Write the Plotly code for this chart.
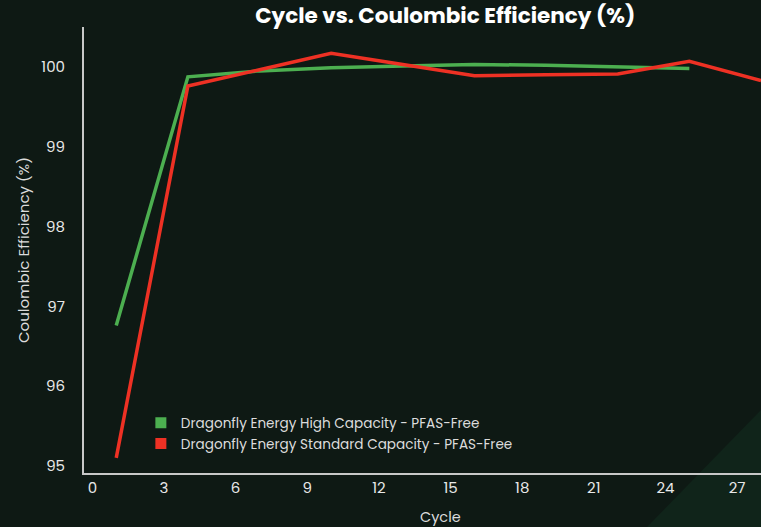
import plotly.graph_objects as go

# cycles and coulombic efficiency (%)
cycles_high = [1, 4, 7, 10, 13, 16, 19, 22, 25]
ce_high = [96.76, 99.875, 99.95, 99.99, 100.01, 100.03, 100.02, 100.0, 99.98]

cycles_std = [1, 4, 7, 10, 13, 16, 19, 22, 25, 28]
ce_std = [95.1, 99.76, 99.965, 100.17, 100.03, 99.89, 99.90, 99.91, 100.07, 99.83]

name_high = "Dragonfly Energy High Capacity - PFAS-Free"
name_std = "Dragonfly Energy Standard Capacity - PFAS-Free"

x_ticks = list(range(0, 28, 3))
y_ticks = [95, 96, 97, 98, 99, 100]

FONT = "Poppins, Inter, 'Open Sans', sans-serif"
bg = "#0e1914"
green = "#4caf50"
red = "#ee3124"

fig = go.Figure()
fig.add_trace(go.Scatter(x=cycles_high, y=ce_high, mode="lines", name=name_high,
                         line=dict(color=green, width=3.5), showlegend=False))
fig.add_trace(go.Scatter(x=cycles_std, y=ce_std, mode="lines", name=name_std,
                         line=dict(color=red, width=3.5), showlegend=False))
# square legend entries
for nm, col in [(name_high, green), (name_std, red)]:
    fig.add_trace(go.Scatter(x=[None], y=[None], mode="markers", name=nm,
                             marker=dict(symbol="square", size=11, color=col)))

# faint lighter corner in the bottom right
fig.add_shape(type="path", xref="paper", yref="paper", layer="below",
              path="M 0.781 -0.2 L 1.0 -0.2 L 1.0 0.141 Z",
              fillcolor="#10241a", line=dict(width=0))

fig.add_annotation(text="Cycle", xref="paper", yref="paper", x=0.526, y=-0.098,
                   xanchor="center", yanchor="middle", showarrow=False,
                   font=dict(size=14.5, color="#dcdcdc"))

fig.update_layout(
    width=761, height=527,
    paper_bgcolor=bg, plot_bgcolor="rgba(0,0,0,0)",
    margin=dict(l=84, r=0, t=27, b=54),
    font=dict(family=FONT, color="#e8e8e8", size=15),
    title=dict(text="<b>Cycle vs. Coulombic Efficiency (%)</b>", x=0.585, xanchor="center",
               y=0.97, yanchor="middle", font=dict(size=21.5, color="#ffffff")),
    showlegend=True,
    legend=dict(x=0.084, y=0.147, xanchor="left", yanchor="top", bgcolor="rgba(0,0,0,0)",
                font=dict(size=13.6, color="#dcdcdc"), itemwidth=30, tracegroupgap=2),
    xaxis=dict(range=[-0.35, 28.0], tickvals=x_ticks, showgrid=False, zeroline=False,
               showline=True, linecolor="#c8c8c8", linewidth=2, ticks=""),
    yaxis=dict(range=[94.91, 100.5], tickvals=y_ticks, showgrid=False, zeroline=False,
               showline=True, linecolor="#c8c8c8", linewidth=2, ticks="",
               ticklabelstandoff=14,
               title=dict(text="Coulombic Efficiency (%)", font=dict(size=15, color="#dcdcdc"),
                          standoff=8)),
)

fig.write_html("out.html", config={"displayModeBar": False},
               post_script="document.body.style.margin='0';document.body.style.background='#0e1914';")
